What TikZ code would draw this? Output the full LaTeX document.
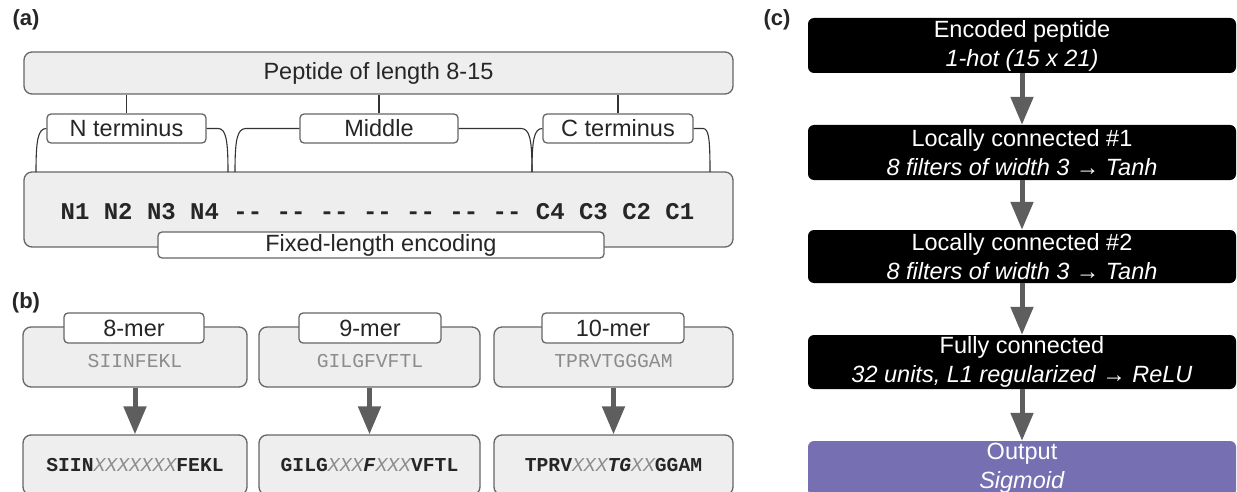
\documentclass[tikz,border=0pt]{standalone}
\usepackage{fontspec}
\setmainfont{Liberation Sans}
\setsansfont{Liberation Sans}
\setmonofont{Liberation Mono}
\usetikzlibrary{arrows.meta}
\definecolor{boxgray}{HTML}{EEEEEE}
\definecolor{linegray}{HTML}{666666}
\definecolor{arrowgray}{HTML}{5E5E5E}
\definecolor{seqgray}{HTML}{8C8C8C}
\definecolor{outpurple}{HTML}{766FB2}

\begin{document}
\begin{tikzpicture}[x=1pt, y=-1pt,
  panel label/.style={font=\bfseries\fontsize{22}{26}\selectfont, text=black!85},
  grey box/.style={draw=linegray, line width=1.3pt, fill=boxgray, rounded corners=8pt, inner sep=0pt, font=\fontsize{23.5}{28}\selectfont, text=black!85},
  tag box/.style={draw=linegray, line width=1.3pt, fill=white, rounded corners=4pt, inner sep=0pt, minimum height=29pt, font=\fontsize{23.5}{28}\selectfont, text=black!85},
  layer box/.style={fill=black, text=white, rounded corners=6pt, inner sep=0pt, minimum width=428pt, minimum height=55pt, align=center, font=\fontsize{23.5}{29}\selectfont},
  seq/.style={font=\ttfamily\fontsize{19.7}{24}\selectfont},
  bracket/.style={draw=black!80, line width=1.1pt},
  big arrow/.style={draw=arrowgray, line width=5pt, -{Triangle[length=28pt, width=22pt]}},
]
\useasboundingbox (0,0) rectangle (1237,492);
\clip (0,0) rectangle (1237,492);
% (a)
\node[panel label] (LA) at (26,20) {(a)};
\node[grey box, minimum width=709pt, minimum height=42pt] (P) at (378.5,73) {Peptide of length 8-15};
\node[tag box, minimum width=159pt] (NT) at (126.5,128.5) {N terminus};
\node[tag box, minimum width=158pt] (MD) at (379,128.5) {Middle};
\node[tag box, minimum width=150pt] (CT) at (618,128.5) {C terminus};
\node[grey box, minimum width=709pt, minimum height=75pt] (E) at (378.5,209.5) {};
\node[font=\ttfamily\bfseries\fontsize{24}{28}\selectfont, text=black!85] (S) at (377.5,212) {N1 N2 N3 N4 -{}- -{}- -{}- -{}- -{}- -{}- -{}- C4 C3 C2 C1};
\node[tag box, minimum width=446pt, minimum height=26pt] (F) at (381,245) {Fixed-length encoding};
\draw[bracket] (P.south -| NT.north) -- (NT.north);
\draw[bracket] (P.south -| MD.north) -- (MD.north);
\draw[bracket] (P.south -| CT.north) -- (CT.north);
\coordinate (f1) at (36,172);
\coordinate (f2) at (228,172);
\coordinate (f3) at (235,172);
\coordinate (f4) at (532,172);
\coordinate (f5) at (710,172);
\draw[bracket] (f1) .. controls (36,140) and (38,128.5) .. (NT.west);
\draw[bracket] (NT.east) -- (218,128.5) .. controls (226,128.5) and (228,140) .. (f2);
\draw[bracket] (f3) .. controls (235,140) and (237,128.5) .. (246,128.5) -- (MD.west);
\draw[bracket] (MD.east) -- (521,128.5) .. controls (530,128.5) and (532,140) .. (f4);
\draw[bracket] (f4) .. controls (532,140) and (534,128.5) .. (CT.west);
\draw[bracket] (CT.east) -- (703,128.5) .. controls (709,128.5) and (710,140) .. (f5);
% (b)
\node[panel label] (LB) at (26,303) {(b)};
\node[grey box, minimum width=224pt, minimum height=60pt] (B8) at (135,357) {};
\node[tag box, minimum width=140pt, minimum height=30pt] (T8) at (134,328) {8-mer};
\node[seq, text=seqgray] (S8) at (135,361) {SIINFEKL};
\node[grey box, minimum width=224pt, minimum height=60pt, seq] (O8) at (135,465) {\textbf{SIIN}\textit{\color{seqgray}XXXXXXX}\textbf{FEKL}};
\node[grey box, minimum width=221pt, minimum height=60pt] (B9) at (369.5,357) {};
\node[tag box, minimum width=142pt, minimum height=30pt] (T9) at (370,328) {9-mer};
\node[seq, text=seqgray] (S9) at (370,361) {GILGFVFTL};
\node[grey box, minimum width=221pt, minimum height=60pt, seq] (O9) at (369.5,465) {\textbf{GILG}\textit{\color{seqgray}XXX}\textbf{\textit{F}}\textit{\color{seqgray}XXX}\textbf{VFTL}};
\node[grey box, minimum width=239pt, minimum height=60pt] (B10) at (613.5,357) {};
\node[tag box, minimum width=142pt, minimum height=30pt] (T10) at (613,328) {10-mer};
\node[seq, text=seqgray] (S10) at (613.5,361) {TPRVTGGGAM};
\node[grey box, minimum width=239pt, minimum height=60pt, seq] (O10) at (613.5,465) {\textbf{TPRV}\textit{\color{seqgray}XXX}\textbf{\textit{TG}}\textit{\color{seqgray}XX}\textbf{GGAM}};
\draw[big arrow] (B8) -- (O8);
\draw[big arrow] (B9) -- (O9);
\draw[big arrow] (B10) -- (O10);
% (c)
\node[panel label] (LC) at (777,20) {(c)};
\node[layer box] (L1) at (1022,45.5) {Encoded peptide\\\textit{1-hot (15 x 21)}};
\node[layer box] (L2) at (1022,152.5) {Locally connected \#1\\\textit{8 filters of width 3 → Tanh}};
\node[layer box, minimum height=53pt] (L3) at (1022,256.5) {Locally connected \#2\\\textit{8 filters of width 3 → Tanh}};
\node[layer box, minimum height=54pt] (L4) at (1022,362) {Fully connected\\\textit{32 units, L1 regularized → ReLU}};
\node[layer box, fill=outpurple] (L5) at (1022,468.5) {Output\\\textit{Sigmoid}};
\draw[big arrow] (L1) -- (L2);
\draw[big arrow] (L2) -- (L3);
\draw[big arrow] (L3) -- (L4);
\draw[big arrow] (L4) -- (L5);
\end{tikzpicture}
\end{document}
